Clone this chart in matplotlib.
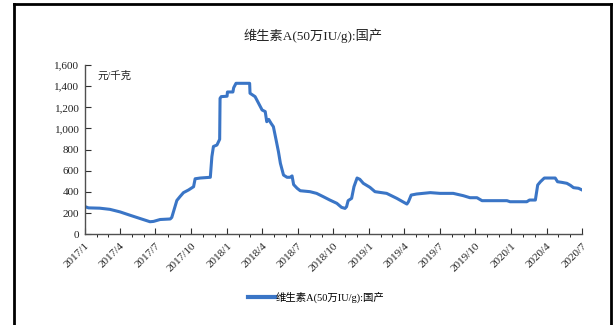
import matplotlib

matplotlib.use("Agg")
import matplotlib.pyplot as plt  # noqa: E402
import matplotlib.dates as mdates  # noqa: E402
from matplotlib.lines import Line2D  # noqa: E402
from matplotlib.ticker import FuncFormatter  # noqa: E402
import pandas as pd  # noqa: E402

SERIES_NAME = "维生素A(50万IU/g):国产"
UNIT = "元/千克"

# price points (date, 元/千克)
dates = [
    "2017-01-01", "2017-01-10", "2017-02-08", "2017-03-06", "2017-04-01", "2017-04-27",
    "2017-05-22", "2017-06-17", "2017-06-26", "2017-07-13", "2017-08-08", "2017-08-12",
    "2017-08-25", "2017-09-02", "2017-09-11", "2017-09-24", "2017-10-07", "2017-10-11",
    "2017-10-24", "2017-11-19", "2017-11-23", "2017-11-27", "2017-12-06", "2017-12-13",
    "2017-12-14", "2017-12-17", "2018-01-01", "2018-01-02", "2018-01-16", "2018-01-18",
    "2018-01-24", "2018-02-28", "2018-03-01", "2018-03-14", "2018-03-23", "2018-04-01",
    "2018-04-09", "2018-04-13", "2018-04-18", "2018-04-24", "2018-04-30", "2018-05-07",
    "2018-05-13", "2018-05-18", "2018-05-26", "2018-06-04", "2018-06-12", "2018-06-17",
    "2018-06-21", "2018-06-30", "2018-07-08", "2018-08-02", "2018-08-19", "2018-09-05",
    "2018-09-22", "2018-10-10", "2018-10-22", "2018-10-31", "2018-11-04", "2018-11-08",
    "2018-11-17", "2018-11-23", "2018-12-01", "2018-12-08", "2018-12-17", "2019-01-03",
    "2019-01-16", "2019-02-15", "2019-03-13", "2019-04-08", "2019-04-12", "2019-04-19",
    "2019-05-03", "2019-06-07", "2019-07-02", "2019-08-05", "2019-08-31", "2019-09-17",
    "2019-10-05", "2019-10-18", "2019-12-21", "2019-12-29", "2020-02-10", "2020-02-17",
    "2020-03-03", "2020-03-09", "2020-03-16", "2020-03-26", "2020-04-23", "2020-04-29",
    "2020-05-10", "2020-05-23", "2020-06-01", "2020-06-09", "2020-06-22", "2020-07-01",
]
prices = [
    262, 250, 247, 236, 212, 180,
    150, 119, 122, 140, 145, 160,
    320, 356, 394, 419, 450, 525,
    532, 539, 734, 830, 844, 898,
    1285, 1301, 1305, 1345, 1345, 1385,
    1427, 1427, 1333, 1301, 1238, 1175,
    1160, 1064, 1086, 1049, 1017, 891,
    781, 671, 560, 539, 539, 552,
    470, 435, 412, 403, 387, 356,
    324, 293, 255, 245, 261, 318,
    340, 450, 532, 520, 482, 444,
    403, 387, 340, 286, 308, 371,
    381, 394, 387, 387, 365, 346,
    346, 318, 318, 308, 308, 324,
    324, 466, 497, 532, 532, 497,
    491, 482, 463, 441, 435, 419,
]

tick_dates = [
    "2017-01-01", "2017-04-01", "2017-07-01", "2017-10-01", "2018-01-01",
    "2018-04-01", "2018-07-01", "2018-10-01", "2019-01-01", "2019-04-01",
    "2019-07-01", "2019-10-01", "2020-01-01", "2020-04-01", "2020-07-01",
]
tick_labels = [
    "2017/1", "2017/4", "2017/7", "2017/10", "2018/1", "2018/4", "2018/7",
    "2018/10", "2019/1", "2019/4", "2019/7", "2019/10", "2020/1", "2020/4", "2020/7",
]
y_ticks = [0, 200, 400, 600, 800, 1000, 1200, 1400, 1600]

LINE_COLOR = "#3A75C6"
AXIS_COLOR = "#505050"
SERIF = ["Liberation Serif", "Noto Sans CJK SC"]

plt.rcParams["font.family"] = SERIF

fig = plt.figure(figsize=(6.14, 3.25), dpi=100)
ax = fig.add_axes([0.1384, 0.279, 0.8096, 0.521])

x = pd.to_datetime(dates)
ax.plot(x, prices, color=LINE_COLOR, linewidth=2.2, solid_joinstyle="round")

ax.set_xlim(pd.Timestamp(tick_dates[0]), pd.Timestamp(tick_dates[-1]))
ax.set_ylim(0, 1600)
ax.set_yticks(y_ticks)
ax.yaxis.set_major_formatter(FuncFormatter(lambda v, _: f"{int(v):,}"))
ax.set_xticks(pd.to_datetime(tick_dates))
ax.set_xticklabels(tick_labels, rotation=45, ha="right", rotation_mode="anchor")
ax.xaxis.set_minor_locator(mdates.MonthLocator(bymonth=[]))

for side in ("top", "right"):
    ax.spines[side].set_visible(False)
for side in ("left", "bottom"):
    ax.spines[side].set_color(AXIS_COLOR)
    ax.spines[side].set_linewidth(1.0)
ax.tick_params(direction="in", length=4, width=0.8, color="#303030",
               labelsize=8, labelcolor="#222222", pad=4)
ax.tick_params(axis="x", pad=5)

ax.text(0.025, 0.965, UNIT, transform=ax.transAxes, fontsize=7.5,
        ha="left", va="top", color="#222222")

fig.text(0.51, 1 - 36 / 325, SERIES_NAME, ha="center", va="center",
         fontsize=9.5, color="#222222")

handle = Line2D([], [], color=LINE_COLOR, linewidth=3)
fig.legend([handle], [SERIES_NAME], loc="center", bbox_to_anchor=(0.515, 1 - 297 / 325),
           frameon=False, fontsize=7.5, handlelength=2.6, handletextpad=0.1)

# outer frame (left, top, right)
frame_kw = dict(color="black", linewidth=2.0, transform=fig.transFigure)
fig.add_artist(Line2D([14 / 614, 14 / 614], [0, 1 - 4 / 325], **frame_kw))
fig.add_artist(Line2D([14 / 614, 611 / 614], [1 - 4 / 325, 1 - 4 / 325], **frame_kw))
fig.add_artist(Line2D([611 / 614, 611 / 614], [0, 1 - 4 / 325], **frame_kw))

fig.savefig("out.png", dpi=100)
